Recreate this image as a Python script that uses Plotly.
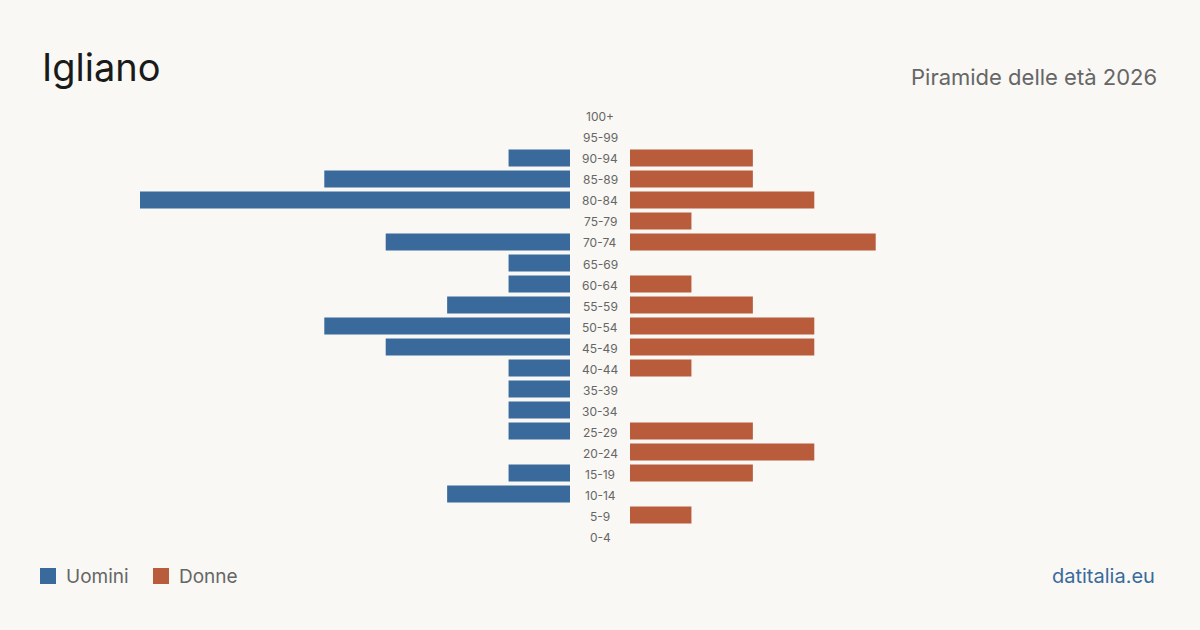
import plotly.graph_objects as go

age_groups = ["100+", "95-99", "90-94", "85-89", "80-84", "75-79", "70-74", "65-69",
              "60-64", "55-59", "50-54", "45-49", "40-44", "35-39", "30-34", "25-29",
              "20-24", "15-19", "10-14", "5-9", "0-4"]
men = [0, 0, 1, 4, 7, 0, 3, 1, 1, 2, 4, 3, 1, 1, 1, 1, 0, 1, 2, 0, 0]
women = [0, 0, 2, 2, 3, 1, 4, 0, 1, 2, 3, 3, 1, 0, 0, 2, 3, 2, 0, 1, 0]

title = "Igliano"
subtitle = "Piramide delle età 2026"
source = "datitalia.eu"

BLUE = "#3a6a9b"
ORANGE = "#b95c3b"
BG = "#f9f8f4"
FONT = "Inter, Roboto, sans-serif"

W, H = 1200, 630
maxv = max(max(men), max(women))

fig = go.Figure()
fig.add_trace(go.Bar(y=age_groups, x=men, orientation="h", marker_color=BLUE,
                     marker_line_width=0,
                     name="Uomini", xaxis="x", yaxis="y", showlegend=False,
                     hoverinfo="x+y"))
fig.add_trace(go.Bar(y=age_groups, x=women, orientation="h", marker_color=ORANGE,
                     marker_line_width=0,
                     name="Donne", xaxis="x2", yaxis="y", showlegend=False,
                     hoverinfo="x+y"))

ydom = [1 - 546.5 / H, 1 - 105.5 / H]

fig.update_layout(
    width=W, height=H,
    margin=dict(l=0, r=0, t=0, b=0),
    paper_bgcolor=BG, plot_bgcolor=BG,
    bargap=0.19,
    font=dict(family=FONT, color="#666666"),
    xaxis=dict(domain=[140 / W, 570 / W], range=[maxv, 0], visible=False, fixedrange=True),
    xaxis2=dict(domain=[630 / W, 1060 / W], range=[0, maxv], visible=False, fixedrange=True),
    yaxis=dict(domain=ydom, categoryorder="array", categoryarray=age_groups[::-1],
               visible=False, fixedrange=True),
)

for g in age_groups:
    fig.add_annotation(x=600 / W, xref="paper", y=g, yref="y", text=g, showarrow=False,
                       font=dict(size=12, color="#666666", family=FONT),
                       xanchor="center", yanchor="middle", yshift=-1)

fig.add_annotation(x=40 / W, y=1 - 67 / H, xref="paper", yref="paper", text=title,
                   showarrow=False, xanchor="left", yanchor="middle",
                   font=dict(size=38, color="#1a1a1a", family=FONT))
fig.add_annotation(x=1159 / W, y=1 - 77 / H, xref="paper", yref="paper", text=subtitle,
                   showarrow=False, xanchor="right", yanchor="middle",
                   font=dict(size=22, color="#666666", family=FONT))
fig.add_annotation(x=1157 / W, y=1 - 576 / H, xref="paper", yref="paper", text=source,
                   showarrow=False, xanchor="right", yanchor="middle",
                   font=dict(size=20, color=BLUE, family=FONT))

# legend
fig.add_shape(type="rect", xref="paper", yref="paper",
              x0=40 / W, x1=56 / W, y0=1 - 584 / H, y1=1 - 568 / H,
              fillcolor=BLUE, line_width=0)
fig.add_annotation(x=64 / W, y=1 - 576 / H, xref="paper", yref="paper", text="Uomini",
                   showarrow=False, xanchor="left", yanchor="middle",
                   font=dict(size=19, color="#666666", family=FONT))
fig.add_shape(type="rect", xref="paper", yref="paper",
              x0=153 / W, x1=169 / W, y0=1 - 584 / H, y1=1 - 568 / H,
              fillcolor=ORANGE, line_width=0)
fig.add_annotation(x=177 / W, y=1 - 576 / H, xref="paper", yref="paper", text="Donne",
                   showarrow=False, xanchor="left", yanchor="middle",
                   font=dict(size=19, color="#666666", family=FONT))

fig.write_html("out.html", config=dict(displayModeBar=False))
